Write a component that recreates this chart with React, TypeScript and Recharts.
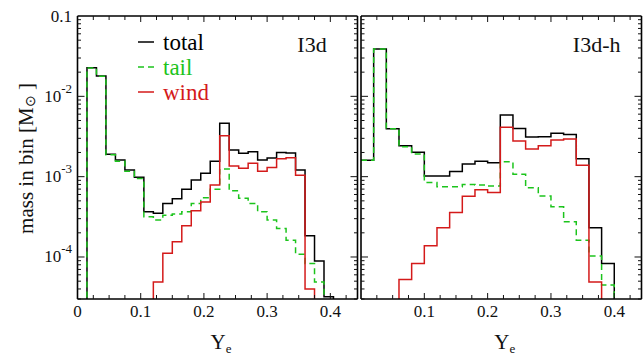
import { LineChart, Line, XAxis, YAxis, Legend, Label } from 'recharts';

// bins with no mass in them: far below the 3e-5 floor, clipped away
const EMPTY = 1e-7;

// I3d run: Ye histogram, bins 0.015 wide starting at Ye = 0
const i3dTotal = [
  EMPTY, 0.0227, 0.0179, 1.9e-3, 1.61e-3, 1.21e-3, 9.8e-4, 3.66e-4, 3.5e-4,
  4.64e-4, 5.3e-4, 6.95e-4, 9.08e-4, 1.1e-3, 1.56e-3, 4.61e-3, 2.14e-3, 1.95e-3,
  2.04e-3, 1.61e-3, 1.71e-3, 2.0e-3, 1.97e-3, 1.21e-3, 1.84e-4, 8.9e-5, 3.2e-5,
];
const i3dTail = [
  EMPTY, 0.0226, 0.0178, 1.87e-3, 1.56e-3, 1.17e-3, 9.5e-4, 3.17e-4, 2.88e-4,
  3.3e-4, 3.42e-4, 3.66e-4, 4.64e-4, 5.46e-4, 6.95e-4, 1.25e-3, 6.68e-4, 5.37e-4,
  4.64e-4, 3.66e-4, 2.88e-4, 2.27e-4, 1.62e-4, 1.08e-4, 8.3e-5, 4.9e-5, EMPTY,
];
const i3dWind = [
  EMPTY, EMPTY, EMPTY, EMPTY, EMPTY, EMPTY, EMPTY, EMPTY, 4.9e-5,
  1.11e-4, 1.55e-4, 2.45e-4, 3.77e-4, 4.83e-4, 7.85e-4, 3.24e-3, 1.36e-3, 1.27e-3,
  1.47e-3, 1.17e-3, 1.3e-3, 1.67e-3, 1.72e-3, 1.04e-3, 4.0e-5, EMPTY, EMPTY,
];

// I3d-h run: bins 0.02 wide
const i3dhTotal = [
  1.6e-3, 0.0388, 3.95e-3, 2.43e-3, 2.02e-3, 1.02e-3, 1.02e-3, 1.16e-3, 1.44e-3, 1.55e-3,
  1.49e-3, 5.85e-3, 3.99e-3, 3.11e-3, 3.15e-3, 3.46e-3, 3.36e-3, 1.67e-3, 2.31e-4, 8.3e-5,
];
const i3dhTail = [
  1.6e-3, 0.0388, 3.95e-3, 2.36e-3, 1.91e-3, 8.49e-4, 7.48e-4, 7.48e-4, 8.0e-4, 7.86e-4,
  7.63e-4, 1.53e-3, 1.07e-3, 7.28e-4, 5.73e-4, 4.21e-4, 2.74e-4, 1.62e-4, 1.03e-4, 4.47e-5,
];
const i3dhWind = [
  EMPTY, EMPTY, EMPTY, 5.26e-5, 8.3e-5, 1.38e-4, 2.31e-4, 3.59e-4, 5.69e-4, 6.88e-4,
  6.37e-4, 4.11e-3, 2.77e-3, 2.21e-3, 2.43e-3, 2.86e-3, 2.94e-3, 1.39e-3, 4.9e-5, EMPTY,
];

const xTicks = [
  0, 0.025, 0.05, 0.075, 0.1, 0.125, 0.15, 0.175, 0.2, 0.225, 0.25, 0.275, 0.3,
  0.325, 0.35, 0.375, 0.4, 0.425,
];
const yDecades = [1e-5, 1e-4, 1e-3, 1e-2];
const yMinorSteps = [2, 3, 4, 5, 6, 7, 8, 9];
const yTicks = yDecades
  .flatMap(d => [d, ...yMinorSteps.map(m => +(d * m).toPrecision(2))])
  .concat([0.1])
  .filter(v => v >= 3e-5);

const SERIES = [
  { key: 'total', name: 'total', color: '#000000', dash: undefined },
  { key: 'tail', name: 'tail', color: '#1cc41c', dash: '6 4' },
  { key: 'wind', name: 'wind', color: '#d41a1a', dash: undefined },
];

const font = 'Liberation Serif, Times New Roman, serif';

function histRows(binWidth: number, total: number[], tail: number[], wind: number[]) {
  const rows = total.map((t, i) => ({
    x: +(i * binWidth).toFixed(4),
    total: t,
    tail: tail[i],
    wind: wind[i],
  }));
  // closing edge so the last bin drops back down
  rows.push({ x: +(total.length * binWidth).toFixed(4), total: EMPTY, tail: EMPTY, wind: EMPTY });
  return rows;
}

const i3dRows = histRows(0.015, i3dTotal, i3dTail, i3dWind);
const i3dhRows = histRows(0.02, i3dhTotal, i3dhTail, i3dhWind);

const isDecade = (v: number) => Math.abs(Math.log10(v) - Math.round(Math.log10(v))) < 1e-6;
const isTenth = (v: number) => Math.abs(v * 10 - Math.round(v * 10)) < 1e-6;

function YTick(props: any) {
  const { x, y, payload, dir, labels } = props;
  const v = payload.value;
  const major = isDecade(v);
  const len = major ? 7 : 3.5;
  const onEdge = v >= 0.1;
  return (
    <g>
      {!onEdge && <line x1={x} x2={x + dir * len} y1={y} y2={y} stroke="#111" strokeWidth={1} />}
      {labels && major && (
        <text x={x - 5.5} y={y + 5.5} textAnchor="end" fontFamily={font} fontSize={17} fill="#111">
          {v >= 0.1 ? '0.1' : (
            <>
              10<tspan dy={-9} fontSize={13}>{Math.round(Math.log10(v))}</tspan>
            </>
          )}
        </text>
      )}
    </g>
  );
}

function XTick(props: any) {
  const { x, y, payload, dir, labels, showZero } = props;
  const v = payload.value;
  const major = isTenth(v);
  const len = major ? 6 : 4;
  return (
    <g>
      {v !== 0 && <line x1={x} x2={x} y1={y} y2={y + dir * len} stroke="#111" strokeWidth={1} />}
      {labels && major && (showZero || v !== 0) && (
        <text x={x} y={y + 17.7} textAnchor="middle" fontFamily={font} fontSize={17} fill="#111">
          {v === 0 ? '0' : v.toFixed(1)}
        </text>
      )}
    </g>
  );
}

function LegendBox() {
  return (
    <svg width={100} height={85}>
      {SERIES.map((s, i) => (
        <g key={s.key}>
          <line x1={3} x2={19} y1={17 + i * 25} y2={17 + i * 25} stroke={s.color}
            strokeWidth={1.5} strokeDasharray={s.dash} />
          <text x={28} y={25 + i * 25} fontFamily={font} fontSize={23} fill={s.color}>{s.name}</text>
        </g>
      ))}
    </svg>
  );
}

const axisLine = { stroke: '#000', strokeWidth: 1.6 };

function Panel({ rows, title, titleInset, width, yAxisWidth, marginRight, first }: any) {
  return (
    <LineChart width={width} height={356} data={rows}
      margin={{ top: 15, right: marginRight, bottom: 0, left: 0 }}>
      <XAxis dataKey="x" type="number" domain={[0, 0.443]} allowDataOverflow ticks={xTicks}
        interval={0} height={57} tickLine={false} tickSize={0} tickMargin={0} axisLine={axisLine}
        tick={(p: any) => <XTick {...p} dir={-1} labels showZero={first} />}>
        <Label content={({ viewBox }: any) => (
          <text x={viewBox.x + viewBox.width / 2 + 3.5} y={viewBox.y + 49.5} textAnchor="middle"
            fontFamily={font} fontSize={21} fill="#111">
            Y<tspan dy={4.5} fontSize={13}>e</tspan>
          </text>
        )} />
      </XAxis>
      <XAxis xAxisId="top" orientation="top" dataKey="x" type="number" domain={[0, 0.443]}
        allowDataOverflow ticks={xTicks} interval={0} height={1} tickLine={false} tickSize={0}
        tickMargin={0} axisLine={axisLine}
        tick={(p: any) => <XTick {...p} dir={1} labels={false} />}>
        <Label content={({ viewBox }: any) => (
          <text x={viewBox.x + viewBox.width - titleInset} y={viewBox.y + 36.7} textAnchor="end"
            fontFamily={font} fontSize={22} fill="#111">
            {title}
          </text>
        )} />
      </XAxis>
      <YAxis scale="log" domain={[3e-5, 0.1]} allowDataOverflow ticks={yTicks} interval={0}
        width={yAxisWidth} tickLine={false} tickSize={0} tickMargin={0} axisLine={axisLine}
        tick={(p: any) => <YTick {...p} dir={1} labels={first} />}>
        {first && (
          <Label content={({ viewBox }: any) => (
            <text transform={`translate(33, ${viewBox.y + viewBox.height / 2 + 1}) rotate(-90)`}
              textAnchor="middle" fontFamily={font} fontSize={21} fill="#111">
              mass in bin [M<tspan dy={2} fontSize={14}>⊙</tspan><tspan dy={-2}> ]</tspan>
            </text>
          )} />
        )}
      </YAxis>
      <YAxis yAxisId="right" orientation="right" scale="log" domain={[3e-5, 0.1]} allowDataOverflow
        ticks={yTicks} interval={0} width={1} tickLine={false} tickSize={0} tickMargin={0}
        axisLine={axisLine} tick={(p: any) => <YTick {...p} dir={-1} labels={false} />} />
      {first && (
        <Legend layout="vertical" align="center" verticalAlign="middle" content={() => <LegendBox />}
          wrapperStyle={{ left: 135, top: 25, width: 100, height: 85 }} />
      )}
      {SERIES.map(s => (
        <Line key={s.key} dataKey={s.key} name={s.name} type="stepAfter" stroke={s.color}
          strokeWidth={1.5} strokeDasharray={s.dash} dot={false} activeDot={false}
          isAnimationActive={false} />
      ))}
    </LineChart>
  );
}

export default function App() {
  return (
    <div style={{ position: 'absolute', left: 0, top: 0, width: 644, height: 356, background: '#fff', overflow: 'hidden' }}>
      <div style={{ position: 'absolute', left: 0, top: 0 }}>
        <Panel rows={i3dRows} title="I3d" titleInset={30.8} width={360} yAxisWidth={77.5}
          marginRight={1.5} first />
      </div>
      <div style={{ position: 'absolute', left: 359.5, top: 0 }}>
        <Panel rows={i3dhRows} title="I3d-h" titleInset={21} width={283} yAxisWidth={1}
          marginRight={0.5} first={false} />
      </div>
    </div>
  );
}
